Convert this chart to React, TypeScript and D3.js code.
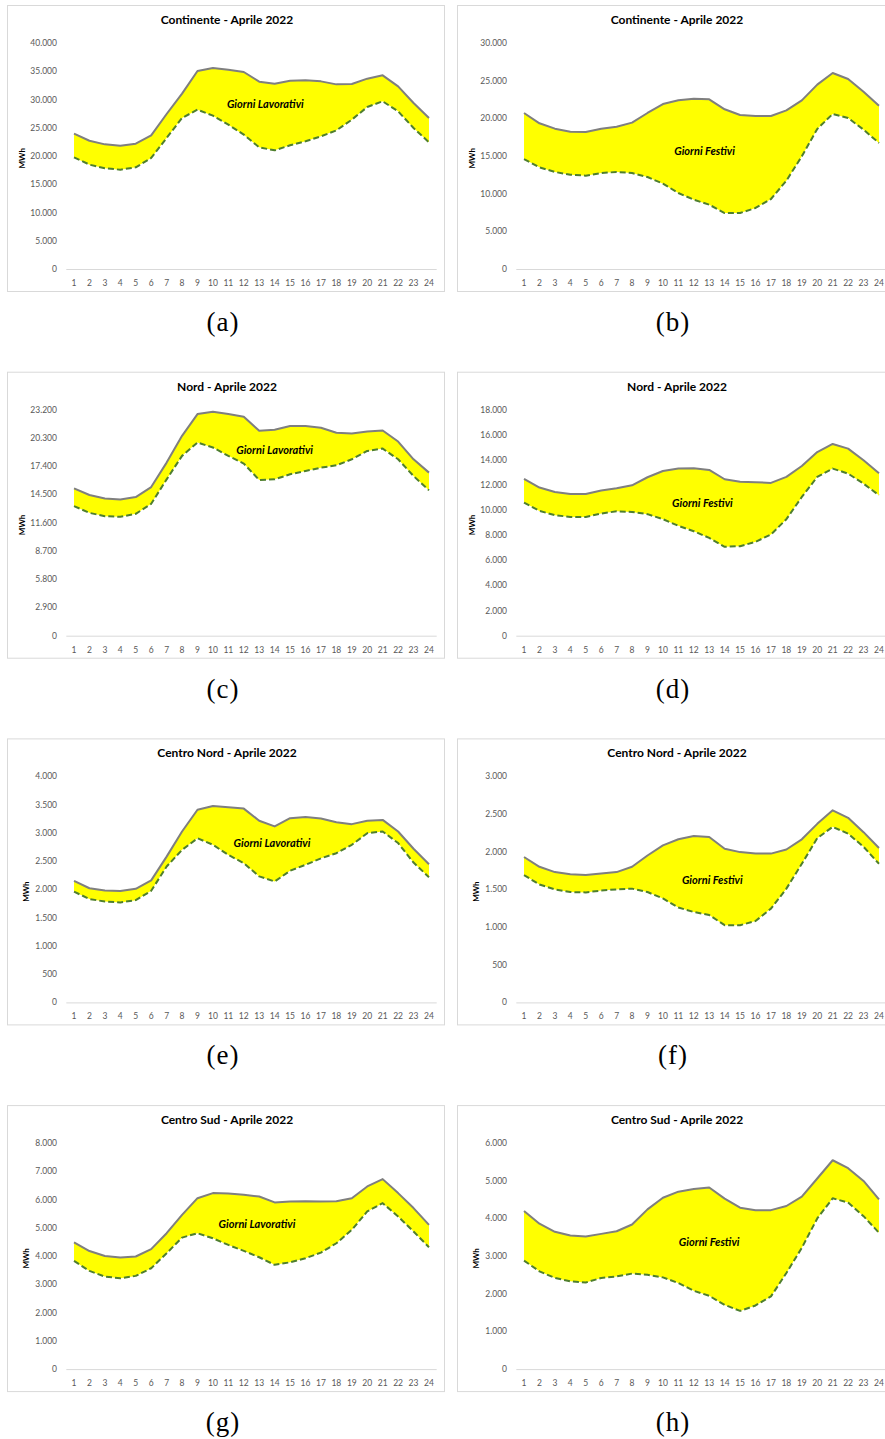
import { useEffect, useRef } from 'react';
import * as d3 from 'd3';

// hour of the day, x axis categories
const HOURS = ['1', '2', '3', '4', '5', '6', '7', '8', '9', '10', '11', '12', '13', '14', '15', '16', '17', '18', '19', '20', '21', '22', '23', '24'];

// (a) Continente - giorni lavorativi
const contLavTop = [23950, 22700, 22060, 21830, 22180, 23660, 27430, 31030, 35040, 35580, 35280, 34870, 33150, 32800, 33330, 33390, 33210, 32680, 32740, 33690, 34280, 32330, 29380, 26730];
const contLavBottom = [19760, 18470, 17820, 17580, 17990, 19650, 23190, 26730, 28200, 27140, 25550, 23780, 21530, 21000, 21890, 22600, 23480, 24540, 26430, 28670, 29680, 27900, 24960, 22420];
// (b) Continente - giorni festivi
const contFesTop = [20710, 19340, 18630, 18230, 18190, 18630, 18890, 19430, 20710, 21900, 22390, 22610, 22520, 21200, 20440, 20310, 20310, 21060, 22390, 24470, 26020, 25220, 23540, 21680];
const contFesBottom = [14600, 13500, 12880, 12520, 12390, 12740, 12880, 12740, 12210, 11330, 10090, 9200, 8540, 7430, 7430, 8100, 9290, 11730, 14960, 18590, 20580, 20050, 18500, 16730];
// (c) Nord - giorni lavorativi
const nordLavTop = [15120, 14440, 14090, 13990, 14230, 15260, 17770, 20520, 22750, 22990, 22750, 22480, 21030, 21140, 21520, 21520, 21340, 20830, 20760, 20970, 21070, 19930, 18110, 16740];
const nordLavBottom = [13300, 12610, 12270, 12200, 12510, 13540, 16050, 18460, 19830, 19320, 18460, 17670, 15980, 16050, 16570, 16910, 17250, 17490, 18110, 18970, 19210, 18110, 16390, 14920];
// (d) Nord - giorni festivi
const nordFesTop = [12490, 11800, 11450, 11290, 11290, 11560, 11740, 11980, 12620, 13120, 13310, 13330, 13200, 12460, 12270, 12220, 12170, 12650, 13520, 14630, 15270, 14900, 13970, 12940];
const nordFesBottom = [10600, 9940, 9600, 9460, 9460, 9730, 9910, 9860, 9680, 9280, 8750, 8320, 7790, 7080, 7130, 7480, 8060, 9280, 11050, 12650, 13310, 12910, 12110, 11190];
// (e) Centro Nord - giorni lavorativi
const cnordLavTop = [2150, 2020, 1980, 1970, 2010, 2160, 2580, 3025, 3410, 3475, 3455, 3430, 3215, 3115, 3260, 3280, 3255, 3190, 3155, 3215, 3230, 3025, 2720, 2445];
const cnordLavBottom = [1960, 1830, 1785, 1770, 1810, 1975, 2405, 2700, 2905, 2790, 2610, 2465, 2230, 2140, 2330, 2435, 2550, 2640, 2790, 2995, 3025, 2820, 2475, 2215];
// (f) Centro Nord - giorni festivi
const cnordFesTop = [1930, 1800, 1730, 1700, 1690, 1710, 1730, 1800, 1950, 2085, 2165, 2210, 2195, 2040, 1995, 1975, 1975, 2030, 2165, 2370, 2550, 2450, 2260, 2050];
const cnordFesBottom = [1690, 1565, 1500, 1465, 1460, 1485, 1500, 1510, 1465, 1380, 1260, 1200, 1160, 1025, 1025, 1080, 1245, 1510, 1840, 2180, 2330, 2240, 2065, 1840];
// (g) Centro Sud - giorni lavorativi
const csudLavTop = [4490, 4180, 4005, 3950, 3985, 4245, 4810, 5460, 6050, 6230, 6220, 6170, 6110, 5900, 5935, 5945, 5935, 5945, 6050, 6465, 6725, 6230, 5700, 5105];
const csudLavBottom = [3830, 3475, 3275, 3215, 3300, 3570, 4100, 4655, 4810, 4630, 4395, 4185, 3960, 3690, 3780, 3925, 4125, 4455, 4930, 5580, 5875, 5400, 4870, 4315];
// (h) Centro Sud - giorni festivi
const csudFesTop = [4195, 3860, 3645, 3545, 3520, 3590, 3660, 3840, 4240, 4550, 4710, 4780, 4820, 4525, 4285, 4220, 4220, 4330, 4580, 5060, 5545, 5335, 4995, 4505];
const csudFesBottom = [2880, 2595, 2420, 2330, 2300, 2420, 2460, 2535, 2505, 2435, 2285, 2080, 1945, 1705, 1545, 1690, 1930, 2550, 3220, 4000, 4535, 4420, 4060, 3620];

const TITLES = ['Continente - Aprile 2022', 'Continente - Aprile 2022', 'Nord - Aprile 2022', 'Nord - Aprile 2022', 'Centro Nord - Aprile 2022', 'Centro Nord - Aprile 2022', 'Centro Sud - Aprile 2022', 'Centro Sud - Aprile 2022'];
const Y_MAX = [40000, 30000, 23200, 18000, 4000, 3000, 8000, 6000];
const Y_STEP = [5000, 5000, 2900, 2000, 500, 500, 1000, 1000];
const DAY_TYPES = ['Giorni Lavorativi', 'Giorni Festivi', 'Giorni Lavorativi', 'Giorni Festivi', 'Giorni Lavorativi', 'Giorni Festivi', 'Giorni Lavorativi', 'Giorni Festivi'];
// where the day type label sits, as [hour, MWh]
const LABEL_AT = [[13.4, 29200], [12.7, 15660], [14.0, 19090], [12.56, 10590], [13.83, 2830], [13.2, 1620], [12.86, 5130], [13.0, 3370]];
const CAPTIONS = ['(a)', '(b)', '(c)', '(d)', '(e)', '(f)', '(g)', '(h)'];
const TOPS = [contLavTop, contFesTop, nordLavTop, nordFesTop, cnordLavTop, cnordFesTop, csudLavTop, csudFesTop];
const BOTTOMS = [contLavBottom, contFesBottom, nordLavBottom, nordFesBottom, cnordLavBottom, cnordFesBottom, csudLavBottom, csudFesBottom];

const it = d3.formatLocale({ decimal: ',', thousands: '.', grouping: [3], currency: ['', ' €'] });
const fmt = it.format(',d');

const SANS = 'Lato, "Open Sans", sans-serif';

const App = () => {
	const ref = useRef(null);

	useEffect(() => {
		const svg = d3.select(ref.current);
		svg.selectAll('*').remove();

		TITLES.forEach((title, i) => {
			const col = i % 2;
			const row = Math.floor(i / 2);
			const px = 7 + col * 450;
			const py = 5 + row * 366.7;
			const g = svg.append('g');

			// chart box
			g.append('rect')
				.attr('x', px + 0.5)
				.attr('y', py + 0.5)
				.attr('width', 437)
				.attr('height', 286)
				.attr('fill', '#fff')
				.attr('stroke', '#d9d9d9');

			const x = d3.scaleBand().domain(HOURS).range([px + 59.3, px + 429.7]);
			const xc = (h) => x(h) + x.bandwidth() / 2;
			const xLin = d3.scaleLinear().domain([1, 24]).range([xc('1'), xc('24')]);
			const y = d3.scaleLinear().domain([0, Y_MAX[i]]).range([py + 264, py + 38]);

			// title
			g.append('text')
				.attr('x', px + 220)
				.attr('y', py + 19)
				.attr('text-anchor', 'middle')
				.style('font-family', SANS)
				.style('font-weight', 'bold')
				.style('font-size', '12px')
				.attr('fill', '#000')
				.text(title);

			// y ticks
			const ticks = d3.range(0, Y_MAX[i] + 1, Y_STEP[i]);
			g.append('g')
				.selectAll('text')
				.data(ticks)
				.join('text')
				.attr('x', px + 50)
				.attr('y', (d) => y(d) + 3)
				.attr('text-anchor', 'end')
				.style('font-family', SANS)
				.style('font-size', '8.5px')
				.attr('fill', '#595959')
				.text((d) => fmt(d));

			const widest = d3.max(ticks, (d) => fmt(d).length);
			g.append('text')
				.attr('transform', `translate(${px + 50 - widest * 4.4 - 6}, ${y(Y_MAX[i] * 0.49)}) rotate(-90)`)
				.attr('text-anchor', 'middle')
				.style('font-family', SANS)
				.style('font-weight', 'bold')
				.style('font-size', '8px')
				.attr('fill', '#000')
				.text('MWh');

			// baseline
			g.append('line')
				.attr('x1', x.range()[0])
				.attr('x2', x.range()[1])
				.attr('y1', y(0) + 0.5)
				.attr('y2', y(0) + 0.5)
				.attr('stroke', '#d9d9d9');

			// x ticks
			g.append('g')
				.selectAll('text')
				.data(HOURS)
				.join('text')
				.attr('x', (d) => xc(d))
				.attr('y', y(0) + 17)
				.attr('text-anchor', 'middle')
				.style('font-family', SANS)
				.style('font-size', '8.5px')
				.attr('fill', '#595959')
				.text((d) => d);

			const top = TOPS[i];
			const bottom = BOTTOMS[i];

			// yellow band between the two profiles
			const band = d3
				.area()
				.x((d, j) => xc(HOURS[j]))
				.y0((d, j) => y(bottom[j]))
				.y1((d) => y(d));
			g.append('path').datum(top).attr('d', band).attr('fill', '#ffff00');

			const line = d3
				.line()
				.x((d, j) => xc(HOURS[j]))
				.y((d) => y(d));

			g.append('path')
				.datum(top)
				.attr('d', line)
				.attr('fill', 'none')
				.attr('stroke', '#7f7f7f')
				.attr('stroke-width', 2)
				.attr('stroke-linejoin', 'round');

			g.append('path')
				.datum(bottom)
				.attr('d', line)
				.attr('fill', 'none')
				.attr('stroke', '#4f7f2e')
				.attr('stroke-width', 2)
				.attr('stroke-dasharray', '6,3')
				.attr('stroke-linejoin', 'round');

			// day type label
			g.append('text')
				.attr('x', xLin(LABEL_AT[i][0]))
				.attr('y', y(LABEL_AT[i][1]) + 4)
				.attr('text-anchor', 'middle')
				.style('font-family', SANS)
				.style('font-weight', 'bold')
				.style('font-style', 'italic')
				.style('font-size', '11px')
				.attr('fill', '#000')
				.text(DAY_TYPES[i]);

			// sub caption
			svg.append('text')
				.attr('x', px + 216)
				.attr('y', py + 326)
				.attr('text-anchor', 'middle')
				.style('font-family', '"Liberation Serif", "DejaVu Serif", serif')
				.style('font-size', '27px')
				.attr('letter-spacing', '1px')
				.attr('fill', '#000')
				.text(CAPTIONS[i]);
		});
	}, []);

	return <svg ref={ref} width={885} height={1439} style={{ position: 'absolute', left: 0, top: 0, background: '#fff' }}></svg>;
};

export default App;
